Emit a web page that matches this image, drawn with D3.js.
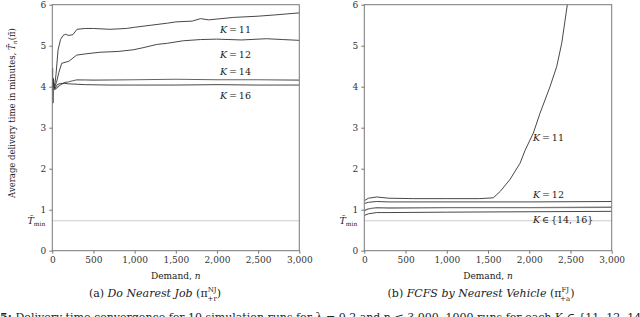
<!DOCTYPE html>
<head>
    <meta charset="utf-8">
    <title>Delivery time convergence</title>
    <script src="https://cdn.jsdelivr.net/npm/d3@7/dist/d3.min.js"></script>
    <style>
        body { margin: 0; background: #fff; }
        svg { display: block; }
        svg text { font-family: "DejaVu Serif", "Liberation Serif", "Times New Roman", serif; }
        .axis path, .axis line { stroke: #777; }
        .axis text { fill: #333; font-size: 9px; }
        .lbl { font-size: 10px; fill: #222; }
        .curve { fill: none; stroke: #333; stroke-width: 0.9; }
    </style>
</head>
<body>
<svg id="fig"></svg>
<script>
    // data
    const xTicks = [0, 500, 1000, 1500, 2000, 2500, 3000];
    const yTicks = [0, 1, 2, 3, 4, 5, 6];
    const tMin = 0.73;

    // (a) Do Nearest Job
    const njN11 = [0, 4, 8, 14, 25, 45, 70, 100, 130, 160, 200, 250, 300, 400, 500, 700, 900, 1000, 1200, 1400, 1500, 1700, 1800, 1900, 2000, 2200, 2500, 2700, 3000];
    const njK11 = [4.0, 4.45, 3.6, 4.2, 3.95, 4.3, 4.9, 5.15, 5.25, 5.28, 5.25, 5.27, 5.4, 5.42, 5.42, 5.4, 5.42, 5.45, 5.5, 5.55, 5.58, 5.6, 5.66, 5.63, 5.65, 5.69, 5.72, 5.75, 5.8];
    const njN12 = [0, 20, 50, 80, 114, 200, 296, 400, 579, 800, 983, 1100, 1268, 1400, 1590, 1800, 1997, 2300, 2600, 2800, 3000];
    const njK12 = [4.0, 3.95, 4.1, 4.35, 4.57, 4.62, 4.77, 4.8, 4.84, 4.86, 4.9, 4.95, 5.03, 5.06, 5.12, 5.15, 5.16, 5.14, 5.17, 5.15, 5.13];
    const njN14 = [0, 15, 30, 60, 100, 150, 200, 300, 500, 1000, 1500, 2000, 2500, 3000];
    const njK14 = [4.1, 3.95, 3.93, 3.98, 4.05, 4.1, 4.12, 4.17, 4.16, 4.17, 4.18, 4.17, 4.17, 4.16];
    const njN16 = [0, 15, 30, 60, 100, 150, 200, 400, 700, 1000, 1500, 2000, 2500, 3000];
    const njK16 = [3.9, 4.1, 3.95, 4.05, 4.08, 4.08, 4.07, 4.05, 4.04, 4.04, 4.04, 4.05, 4.04, 4.04];

    // (b) FCFS by Nearest Vehicle
    const fjN11 = [0, 50, 150, 300, 600, 1000, 1400, 1564, 1650, 1767, 1888, 1950, 2050, 2130, 2252, 2333, 2394, 2462, 2500];
    const fjK11 = [1.22, 1.28, 1.31, 1.28, 1.27, 1.27, 1.27, 1.29, 1.45, 1.74, 2.13, 2.45, 2.87, 3.35, 4.0, 4.49, 5.06, 6.0, 6.6];
    const fjN = [0, 50, 150, 300, 1000, 2000, 3000];
    const fjK12 = [1.15, 1.18, 1.2, 1.19, 1.19, 1.19, 1.2];
    const fjK14 = [0.98, 1.02, 1.05, 1.04, 1.05, 1.05, 1.06];
    const fjK16 = [0.86, 0.9, 0.93, 0.93, 0.94, 0.95, 0.96];

    const W = 640, H = 317;
    const svg = d3.select("#fig").attr("width", W).attr("height", H);

    const y = d3.scaleLinear().domain([0, 6]).range([250.7, 4.7]);

    function panel(id, x0, x1, series, labels, caption) {
        let x = d3.scaleLinear().domain([0, 3000]).range([x0, x1]);
        let g = svg.append("g");

        g.append("clipPath").attr("id", "clip" + id)
            .append("rect").attr("x", x0).attr("y", y(6)).attr("width", x1 - x0).attr("height", y(0) - y(6));

        // T_min reference line
        g.append("line")
            .attr("x1", x0).attr("x2", x1)
            .attr("y1", y(tMin)).attr("y2", y(tMin))
            .style("stroke", "#ccc").style("stroke-width", 1);

        let line = d3.line().x(d => x(d[0])).y(d => y(d[1]));
        series.forEach(s => {
            g.append("path")
                .attr("class", "curve")
                .attr("clip-path", "url(#clip" + id + ")")
                .attr("d", line(d3.zip(s.n, s.v)))
                .style("stroke", s.c || "#333")
                .style("stroke-width", s.w || 0.9);
        });

        // frame
        g.append("rect")
            .attr("x", x0).attr("y", y(6)).attr("width", x1 - x0).attr("height", y(0) - y(6))
            .style("fill", "none").style("stroke", "#777").style("stroke-width", 1);

        g.append("g").attr("class", "axis")
            .attr("transform", "translate(0," + y(0) + ")")
            .call(d3.axisBottom(x).tickValues(xTicks).tickFormat(d3.format(",")).tickSize(3).tickPadding(3))
            .call(a => a.select(".domain").remove());
        g.append("g").attr("class", "axis")
            .attr("transform", "translate(" + x0 + ",0)")
            .call(d3.axisLeft(y).tickValues(yTicks).tickFormat(d3.format("d")).tickSize(3).tickPadding(3))
            .call(a => a.select(".domain").remove());

        // T_min label
        let tm = g.append("text").attr("class", "lbl")
            .attr("x", x0 - 7).attr("y", y(tMin) + 3)
            .attr("text-anchor", "end").style("font-style", "italic").style("font-size", "9.5px");
        tm.append("tspan").text("T\u0304");
        tm.append("tspan").attr("dy", 2).style("font-size", "6px").style("font-style", "normal").text("min");

        g.append("text").attr("class", "lbl")
            .attr("x", (x0 + x1) / 2).attr("y", 279)
            .attr("text-anchor", "middle").style("font-size", "9px")
            .call(t => {
                t.append("tspan").text("Demand, ");
                t.append("tspan").style("font-style", "italic").text("n");
            });

        labels.forEach(l => {
            let t = g.append("text").attr("class", "lbl").attr("x", l.x).attr("y", l.y).style("font-size", "9.5px");
            t.append("tspan").style("font-style", "italic").text("K");
            t.append("tspan").text(l.t);
        });

        let c = g.append("text").attr("class", "lbl")
            .attr("x", caption.x).attr("y", 297)
            .attr("text-anchor", "middle").style("font-size", "11px");
        c.append("tspan").text(caption.tag + " ");
        c.append("tspan").style("font-style", "italic").text(caption.name);
        c.append("tspan").text(" (\u03c0");
        c.append("tspan").attr("dy", -5).style("font-size", "7px").text(caption.sup);
        c.append("tspan").attr("dx", -9).attr("dy", 9).style("font-size", "7px").text(caption.sub);
        c.append("tspan").attr("dy", -4).text(")");
    }

    panel("a", 52.3, 299.3, [
        { n: njN11, v: njK11 },
        { n: njN12, v: njK12 },
        { n: njN14, v: njK14, c: "#666", w: 1.1 },
        { n: njN16, v: njK16 }
    ], [
        { x: 220, y: 33, t: "\u2009=\u200911" },
        { x: 220, y: 58, t: "\u2009=\u200912" },
        { x: 220, y: 75, t: "\u2009=\u200914" },
        { x: 220, y: 99, t: "\u2009=\u200916" }
    ], { x: 155, tag: "(a)", name: "Do Nearest Job", sup: "NJ", sub: "+r" });

    panel("b", 364.3, 611.7, [
        { n: fjN11, v: fjK11 },
        { n: fjN, v: fjK12 },
        { n: fjN, v: fjK14, c: "#777", w: 1.4 },
        { n: fjN, v: fjK16 }
    ], [
        { x: 533, y: 141, t: "\u2009=\u200911" },
        { x: 533, y: 198, t: "\u2009=\u200912" },
        { x: 533, y: 223, t: "\u2009\u2208\u2009{14, 16}" }
    ], { x: 481, tag: "(b)", name: "FCFS by Nearest Vehicle", sup: "FJ", sub: "+a" });

    // y axis title
    let yl = svg.append("text").attr("class", "lbl")
        .attr("transform", "translate(15,113) rotate(-90)")
        .attr("text-anchor", "middle").style("font-size", "8.5px");
    yl.append("tspan").text("Average delivery time in minutes, ");
    yl.append("tspan").style("font-style", "italic").text("T\u0304");
    yl.append("tspan").attr("dy", 2).style("font-size", "6px").style("font-style", "italic").text("n");
    yl.append("tspan").attr("dy", -2).text("(\u03c0\u0304)");

    // figure caption, mostly cut off by the page edge
    let fc = svg.append("text").attr("class", "lbl")
        .attr("x", 0).attr("y", 321).style("font-size", "11px");
    fc.append("tspan").style("font-weight", "bold").text("5: ");
    fc.append("tspan").text("Delivery time convergence for 10 simulation runs for \u03bb = 0.2 and n \u2264 3,000, 1000 runs for each K \u2208 {11, 12, 14, 16}");
</script>
</body>
